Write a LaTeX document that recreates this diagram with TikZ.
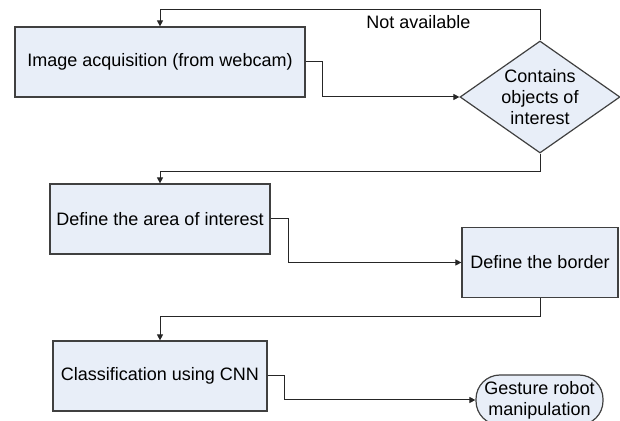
\documentclass[tikz,border=0pt]{standalone}
\usepackage{fontspec}
\setmainfont{Liberation Sans}
\usepackage{xcolor}
\usetikzlibrary{shapes.geometric, arrows.meta, positioning}

\definecolor{boxfill}{RGB}{232,238,248}
\definecolor{boxline}{RGB}{64,64,64}

\begin{document}
\begin{tikzpicture}[
    x=0.5pt, y=-0.5pt,
    font=\fontsize{9}{10.5}\selectfont,
    process/.style={rectangle, draw=boxline, fill=boxfill, line width=0.6pt, minimum height=35pt, inner sep=2pt, align=center},
    decision/.style={diamond, draw=boxline, fill=boxfill, line width=0.6pt, minimum width=80pt, minimum height=56pt, inner sep=0pt, aspect=1.43, align=center},
    terminal/.style={rectangle, rounded corners=12pt, draw=boxline, fill=boxfill, line width=0.6pt, minimum width=63.5pt, minimum height=25pt, inner sep=1pt, align=center},
    arrow/.style={-{Triangle[length=3pt,width=3pt]}, line width=0.5pt, draw=black!85}
]
\clip (0,0) rectangle (620,421);

\node[process, minimum width=145pt] (acquire) at (160,62) {Image acquisition (from webcam)};
\node[decision] (contains) at (540,97) {Contains\\objects of\\interest};
\node[process, minimum width=110pt] (area) at (160,219) {Define the area of interest};
\node[process, minimum width=78pt] (border) at (540,262.5) {Define the border};
\node[process, minimum width=107pt] (classify) at (160,376) {Classification using CNN};
\node[terminal] (gesture) at (539.5,400) {Gesture robot\\manipulation};

\coordinate (loop) at (540,10);

\draw[arrow] (contains.north) -- (loop) -| node[pos=0.16, below=-1pt] {Not available} (acquire.north);
\draw[arrow] (acquire.east) -- ++(17,0) |- (contains.west);
\draw[arrow] (contains.south) -- ++(0,18) -| (area.north);
\draw[arrow] (area.east) -- ++(18,0) |- (border.west);
\draw[arrow] (border.south) -- ++(0,18) -| (classify.north);
\draw[arrow] (classify.east) -- ++(17,0) |- (gesture.west);

\end{tikzpicture}
\end{document}
